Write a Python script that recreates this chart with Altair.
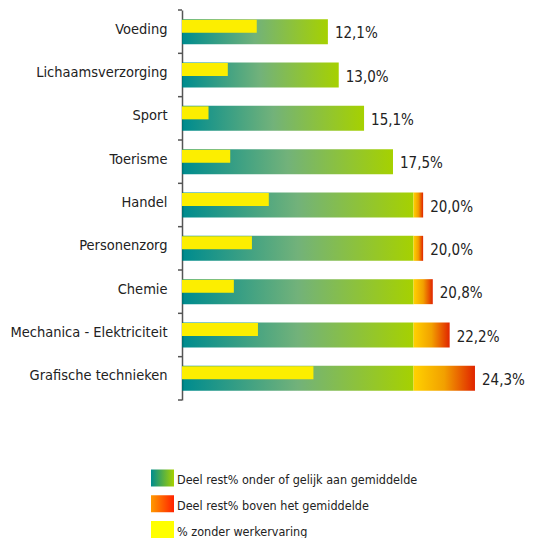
import altair as alt
import pandas as pd

# ---- data ----
categories = ["Voeding", "Lichaamsverzorging", "Sport", "Toerisme", "Handel",
              "Personenzorg", "Chemie", "Mechanica - Elektriciteit", "Grafische technieken"]
rest_total = [12.1, 13.0, 15.1, 17.5, 20.0, 20.0, 20.8, 22.2, 24.3]
zonder_werkervaring = [6.2, 3.8, 2.2, 4.0, 7.2, 5.8, 4.3, 6.3, 10.9]
gemiddelde = 19.2

legend_items = ["Deel rest% onder of gelijk aan gemiddelde",
                "Deel rest% boven het gemiddelde",
                "% zonder werkervaring"]

FONT = "DejaVu Sans Condensed, Liberation Sans Narrow, Roboto, sans-serif"

df = pd.DataFrame({
    "cat": categories,
    "total": rest_total,
    "zonder": zonder_werkervaring,
})
df["zero"] = 0.0
df["avg"] = gemiddelde
df["green_end"] = df["total"].clip(upper=gemiddelde)
df["label"] = df["total"].map(lambda v: f"{v:.1f}".replace(".", ",") + "%")

leg = pd.DataFrame({"item": legend_items})

green_grad = alt.Gradient(gradient="linear", x1=0, x2=1, y1=0, y2=0, stops=[
    alt.GradientStop(offset=0, color="#006B6B"),
    alt.GradientStop(offset=0.01, color="#008C8E"),
    alt.GradientStop(offset=0.5, color="#72B27A"),
    alt.GradientStop(offset=1, color="#A6D100"),
])
orange_grad = alt.Gradient(gradient="linear", x1=0, x2=1, y1=0, y2=0, stops=[
    alt.GradientStop(offset=0, color="#FFD200"),
    alt.GradientStop(offset=0.5, color="#F2A000"),
    alt.GradientStop(offset=1, color="#E02400"),
])
leg_green = alt.Gradient(gradient="linear", x1=0, x2=1, y1=0, y2=0, stops=[
    alt.GradientStop(offset=0, color="#008C8E"),
    alt.GradientStop(offset=1, color="#A6D100"),
])
leg_orange = alt.Gradient(gradient="linear", x1=0, x2=1, y1=0, y2=0, stops=[
    alt.GradientStop(offset=0, color="#FF9A00"),
    alt.GradientStop(offset=1, color="#FF2200"),
])
YELLOW = "#FCEE00"

xs = alt.Scale(domain=[0, 28.2], nice=False, zero=True)
ysort = categories
yscale = alt.Scale(paddingInner=0, paddingOuter=0)

base = alt.Chart(df)

green = base.mark_bar(color=green_grad, height=25).encode(
    y=alt.Y("cat:N", sort=ysort, scale=yscale, title=None,
            axis=alt.Axis(ticks=False, tickSize=0, domainColor="#555555", domainWidth=1.5,
                          labelFont=FONT, labelFontSize=14.5, labelColor="#222222",
                          labelPadding=15, labelOffset=-2, labelLimit=300)),
    x=alt.X("zero:Q", scale=xs, axis=None),
    x2="green_end:Q",
)

orange = base.transform_filter("datum.total > datum.avg").mark_bar(
    color=orange_grad, height=25).encode(
    y=alt.Y("cat:N", sort=ysort),
    x=alt.X("avg:Q", scale=xs),
    x2="total:Q",
)

yellow = base.mark_bar(color=YELLOW, height=13, yOffset=-5.5).encode(
    y=alt.Y("cat:N", sort=ysort),
    x=alt.X("zero:Q", scale=xs),
    x2="zonder:Q",
)

labels = base.mark_text(align="left", baseline="middle", dx=7, dy=1.5,
                        font=FONT, fontSize=15, color="#222222").encode(
    y=alt.Y("cat:N", sort=ysort),
    x=alt.X("total:Q", scale=xs),
    text="label:N",
)

ticks_top = base.mark_rule(color="#555555", strokeWidth=1.5).encode(
    y=alt.Y("cat:N", sort=ysort, bandPosition=0),
    x=alt.value(-4), x2=alt.value(0),
)
ticks_bottom = base.transform_filter(
    alt.datum.cat == categories[-1]).mark_rule(color="#555555", strokeWidth=1.5).encode(
    y=alt.Y("cat:N", sort=ysort, bandPosition=1),
    x=alt.value(-4), x2=alt.value(0),
)

main = alt.layer(green, orange, yellow, labels, ticks_top, ticks_bottom)

# ---- legend drawn below the plot ----
lscale = alt.Scale(type="point", domain=legend_items, range=[468, 519.5], padding=0)
lbase = alt.Chart(leg)

def swatch(item, col):
    return lbase.transform_filter(alt.datum.item == item).mark_bar(
        color=col, height=17).encode(
        y=alt.Y("item:N", scale=lscale, axis=None),
        x=alt.value(-31), x2=alt.value(-8),
    )

ltext = lbase.mark_text(align="left", baseline="middle", font=FONT, fontSize=12.5,
                        color="#222222", dy=2).encode(
    y=alt.Y("item:N", scale=lscale, axis=None),
    x=alt.value(-5),
    text="item:N",
)

legend = alt.layer(swatch(legend_items[0], leg_green),
                   swatch(legend_items[1], leg_orange),
                   swatch(legend_items[2], "#FFFF00"),
                   ltext)

chart = alt.layer(main, legend).resolve_scale(y="independent").properties(
    width=340, height=390,
    padding={"left": 174, "top": 2, "right": 3, "bottom": 138},
    autosize=alt.AutoSizeParams(type="none"),
).configure_view(stroke=None)

chart.save("out.html", embed_options={"renderer": "svg", "actions": False})
